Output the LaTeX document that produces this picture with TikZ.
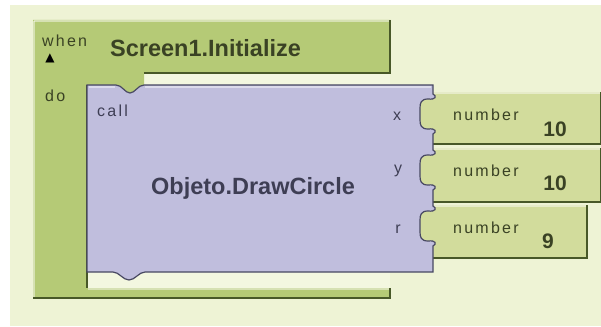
\documentclass[tikz,border=0pt]{standalone}
\usepackage{fontspec}
\setmainfont{Liberation Sans}
\newfontfamily\spacedfont[LetterSpace=14]{Liberation Sans}
\newfontfamily\symfont{DejaVu Sans}
\usepackage{xcolor}
\definecolor{bgcream}{RGB}{238,243,213}
\definecolor{slotlight}{RGB}{243,247,224}
\definecolor{eventgreen}{RGB}{181,202,118}
\definecolor{numgreen}{RGB}{210,220,156}
\definecolor{callpurple}{RGB}{192,190,221}
\definecolor{shadowgreen}{RGB}{72,88,40}
\definecolor{shadowpurple}{RGB}{72,72,98}
\definecolor{textolive}{RGB}{58,66,36}
\definecolor{textpurple}{RGB}{62,62,84}
\tikzset{
  small label/.style={font=\spacedfont\fontsize{16}{16}\selectfont, inner sep=0pt},
  block title/.style={font=\bfseries\fontsize{23.5}{24}\selectfont, inner sep=0pt},
  number value/.style={font=\bfseries\fontsize{21}{21}\selectfont, text=textolive, inner sep=0pt},
  shadow line/.style={draw=shadowgreen, line width=1.4pt},
  light line/.style={draw=white, opacity=0.45, line width=1.2pt}
}

\begin{document}
\begin{tikzpicture}[x=1pt, y=-1pt]
\useasboundingbox (0,0) rectangle (601,326);

%background
\fill[bgcream] (10,5) rectangle (601,326);

%event block
\fill[slotlight] (87,73) rectangle (390,288);
\fill[eventgreen] (33,20) -- (390,20) -- (390,73) -- (144,73) -- (144,85)
    .. controls (138,85) and (135,93) .. (130,93)
    .. controls (125,93) and (122,85) .. (116,85) -- (87,85)
    -- (87,288) -- (390,288) -- (390,298) -- (33,298) -- cycle;
\draw[light line] (34,21) -- (389,21);
\draw[light line] (34,21) -- (34,297);
\draw[light line] (88,289) -- (389,289);
\draw[shadow line] (390,20) -- (390,73) -- (144,73);
\draw[shadow line] (87,85) -- (87,288);
\draw[shadow line] (33,298) -- (390,298) -- (390,288);
    \node[small label, text=textolive, anchor=base west] (when) at (42,47) {when};
    \node[font=\symfont\fontsize{12}{12}\selectfont, inner sep=0pt] (evtri) at (50,58) {▲};
    \node[small label, text=textolive, anchor=base west] (do) at (45,102) {do};
    \node[block title, text=textolive, anchor=base west] (screen) at (110,57) {Screen1.Initialize};

%number blocks
\foreach \top/\bot/\right/\name/\val in {92/144/601/x/10, 148/202/601/y/10, 205/258/587/r/9} {
  \fill[numgreen] (418,\top) rectangle (\right,\bot);
  \draw[light line] (433,\top+1) -- (\right,\top+1);
  \draw[shadow line] (433,\bot) -- (\right,\bot) -- (\right,\top);
  \node[small label, text=textolive, anchor=base west] (num\name) at (453,\top+28) {number};
}
    \node[number value, anchor=base] (valx) at (555,136) {10};
    \node[number value, anchor=base] (valy) at (555,190) {10};
    \node[number value, anchor=base] (valr) at (548,248) {9};

%call block
\filldraw[fill=callpurple, draw=shadowpurple, line width=1.2pt]
    (87,85) -- (116,85)
    .. controls (122,85) and (125,93) .. (130,93)
    .. controls (135,93) and (138,85) .. (144,85) -- (433,85)
    foreach \c in {114,170,226} {
      -- (433,\c-20)
      .. controls (437,\c-18) and (436,\c-14) .. (428,\c-15)
      .. controls (421,\c-15) and (420,\c-11) .. (420,\c-6) -- (420,\c+6)
      .. controls (420,\c+11) and (421,\c+15) .. (428,\c+15)
      .. controls (436,\c+14) and (437,\c+18) .. (433,\c+20)
    }
    -- (433,272) -- (145,272)
    .. controls (139,272) and (135,280) .. (129,280)
    .. controls (123,280) and (119,272) .. (113,272) -- (87,272) -- cycle;
\draw[light line] (89,87) -- (115,87);
\draw[light line] (145,87) -- (431,87);
    \node[small label, text=textpurple, anchor=base west] (call) at (97,116) {call};
    \node[block title, text=textpurple] (method) at (253,188) {Objeto.DrawCircle};
    \node[small label, text=textpurple, anchor=base] (argx) at (397,120) {x};
    \node[small label, text=textpurple, anchor=base] (argy) at (398,173) {y};
    \node[small label, text=textpurple, anchor=base] (argr) at (398,233) {r};

\end{tikzpicture}
\end{document}
